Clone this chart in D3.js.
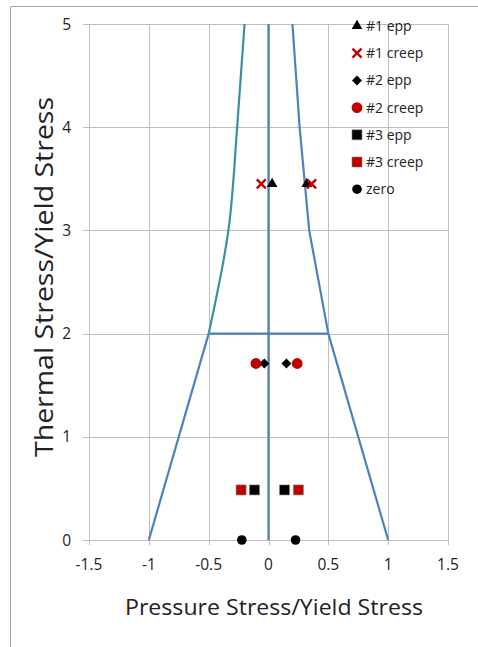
<!DOCTYPE html>
<html>
<head>
<meta charset="utf-8">
<script src="https://cdnjs.cloudflare.com/ajax/libs/d3/7.8.5/d3.min.js"></script>
<style>
  body { margin: 0; background: #fff; }
  svg text { font-family: "Open Sans", "DejaVu Sans", sans-serif; fill: #222; }
</style>
</head>
<body>
<svg id="chart" width="478" height="647"></svg>
<script>
// ----------------------------------------------------------------------------
// Data
// ----------------------------------------------------------------------------

var xTicks = [-1.5, -1, -0.5, 0, 0.5, 1, 1.5];
var yTicks = [0, 1, 2, 3, 4, 5];

// boundary lines
var lowerLeftX = [-1, -0.5];
var lowerLeftY = [0, 2];
var lowerRightX = [1, 0.5];
var lowerRightY = [0, 2];
var midLineX = [-0.5, 0.5];
var midLineY = [2, 2];
var centerX = [0, 0];
var centerY = [0, 5];
var upperY = [2, 3, 4, 5];
var upperLeftX = [-0.5, -0.335, -0.262, -0.2];
var upperRightX = [0.5, 0.34, 0.26, 0.2];

// test points
var names = ["#1 epp", "#1 creep", "#2 epp", "#2 creep", "#3 epp", "#3 creep", "zero"];
var epp1X = [0.03, 0.32];
var epp1Y = [3.45, 3.45];
var creep1X = [-0.06, 0.36];
var creep1Y = [3.45, 3.45];
var epp2X = [-0.035, 0.15];
var epp2Y = [1.71, 1.71];
var creep2X = [-0.105, 0.24];
var creep2Y = [1.71, 1.71];
var epp3X = [-0.117, 0.134];
var epp3Y = [0.485, 0.485];
var creep3X = [-0.229, 0.25];
var creep3Y = [0.485, 0.485];
var zeroX = [-0.223, 0.226];
var zeroY = [0, 0];

// ----------------------------------------------------------------------------
// Drawing
// ----------------------------------------------------------------------------

var svg = d3.select("#chart");
var red = "#c00000";
var blue = "#4f81bd";
var teal = "#3b8fa0";

var x = d3.scaleLinear().domain([-1.5, 1.5]).range([89, 448]);
var y = d3.scaleLinear().domain([0, 5]).range([540, 24]);

// outer frame
svg.append("path")
    .attr("d", "M10.5,647V6.5H478")
    .attr("fill", "none")
    .attr("stroke", "#a6a6a6");

// gridlines
svg.append("g").selectAll("line").data(xTicks).join("line")
    .attr("x1", function(d) { return Math.round(x(d)) + 0.5; })
    .attr("x2", function(d) { return Math.round(x(d)) + 0.5; })
    .attr("y1", y(5)).attr("y2", y(0) + 5)
    .attr("stroke", "#bfbfbf");
svg.append("g").selectAll("line").data(yTicks).join("line")
    .attr("x1", x(-1.5) - 6).attr("x2", x(1.5))
    .attr("y1", function(d) { return Math.round(y(d)) + 0.5; })
    .attr("y2", function(d) { return Math.round(y(d)) + 0.5; })
    .attr("stroke", "#bfbfbf");

// tick labels
svg.append("g").selectAll("text").data(xTicks).join("text")
    .attr("x", function(d) { return x(d); })
    .attr("y", 570)
    .attr("text-anchor", "middle")
    .attr("font-size", 15.5)
    .text(function(d) { return d; });
svg.append("g").selectAll("text").data(yTicks).join("text")
    .attr("x", 71)
    .attr("y", function(d) { return y(d) + 5.5; })
    .attr("text-anchor", "end")
    .attr("font-size", 15.5)
    .text(function(d) { return d; });

// axis titles
svg.append("text")
    .attr("x", 274).attr("y", 615)
    .attr("text-anchor", "middle")
    .attr("font-size", 21.5)
    .attr("textLength", 298)
    .attr("lengthAdjust", "spacingAndGlyphs")
    .text("Pressure Stress/Yield Stress");
svg.append("text")
    .attr("transform", "translate(53,277) rotate(-90)")
    .attr("text-anchor", "middle")
    .attr("font-size", 25)
    .attr("textLength", 360)
    .attr("lengthAdjust", "spacingAndGlyphs")
    .text("Thermal Stress/Yield Stress");

// boundary lines
function drawLine(xs, ys, color, curve) {
    var pts = xs.map(function(v, i) { return [v, ys[i]]; });
    var line = d3.line()
        .x(function(d) { return x(d[0]); })
        .y(function(d) { return y(d[1]); })
        .curve(curve || d3.curveLinear);
    svg.append("path")
        .datum(pts)
        .attr("d", line)
        .attr("fill", "none")
        .attr("stroke", color)
        .attr("stroke-width", 2.2);
}
drawLine(lowerLeftX, lowerLeftY, blue);
drawLine(lowerRightX, lowerRightY, blue);
drawLine(midLineX, midLineY, blue);
drawLine(centerX, centerY, blue);
drawLine(upperLeftX, upperY, teal, d3.curveMonotoneY);
drawLine(upperRightX, upperY, blue);

// markers
var sym = {
    tri: d3.symbol().type(d3.symbolTriangle).size(50),
    dia: d3.symbol().type(d3.symbolSquare).size(50),
    circ: d3.symbol().type(d3.symbolCircle).size(92),
    circS: d3.symbol().type(d3.symbolCircle).size(72),
    sq: d3.symbol().type(d3.symbolSquare).size(100)
};

function drawMarker(g, kind, color) {
    if (kind === "x") {
        g.append("path")
            .attr("d", "M-4.5,-4.5L4.5,4.5M-4.5,4.5L4.5,-4.5")
            .attr("stroke", color)
            .attr("stroke-width", 2.4)
            .attr("fill", "none");
    } else {
        g.append("path")
            .attr("d", sym[kind]())
            .attr("transform", kind === "dia" ? "rotate(45)" : null)
            .attr("fill", color)
            .attr("stroke", kind === "sq" ? "#7f7f7f" : "none")
            .attr("stroke-width", 0.6);
    }
}

var series = [
    {xs: epp1X, ys: epp1Y, kind: "tri", color: "#000"},
    {xs: creep1X, ys: creep1Y, kind: "x", color: red},
    {xs: epp2X, ys: epp2Y, kind: "dia", color: "#000"},
    {xs: creep2X, ys: creep2Y, kind: "circ", color: red},
    {xs: epp3X, ys: epp3Y, kind: "sq", color: "#000"},
    {xs: creep3X, ys: creep3Y, kind: "sq", color: red},
    {xs: zeroX, ys: zeroY, kind: "circS", color: "#000"}
];

series.forEach(function(s) {
    s.xs.forEach(function(v, i) {
        var g = svg.append("g")
            .attr("transform", "translate(" + x(v) + "," + y(s.ys[i]) + ")");
        drawMarker(g, s.kind, s.color);
    });
});

// legend
var legendTop = 26;
var legendStep = 27.2;
series.forEach(function(s, i) {
    var ly = legendTop + i * legendStep;
    var g = svg.append("g").attr("transform", "translate(357," + ly + ")");
    drawMarker(g, s.kind, s.color);
    svg.append("text")
        .attr("x", 366).attr("y", ly + 5)
        .attr("font-size", 14)
        .text(names[i]);
});
</script>
</body>
</html>
